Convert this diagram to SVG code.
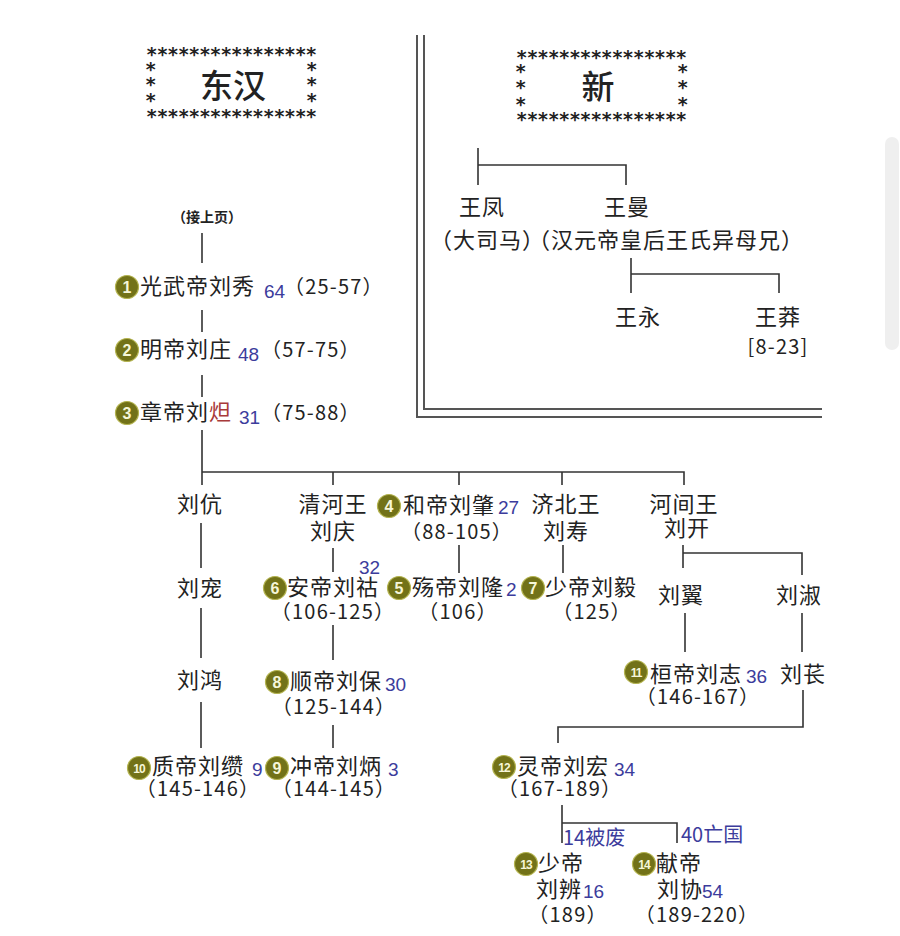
<svg xmlns="http://www.w3.org/2000/svg" width="900" height="936" viewBox="0 0 900 936">
<style>
.t{font-family:"Noto Sans CJK SC","Noto Sans",sans-serif;font-size:22px;fill:#222;letter-spacing:1px}
.p{font-family:"Noto Sans CJK SC","Noto Sans",sans-serif;font-size:20px;fill:#222;letter-spacing:1.2px}
.n{font-family:"Liberation Sans","Noto Sans",sans-serif;font-size:19px;fill:#3c3c9c}
.bl{font-family:"Noto Sans CJK SC","Noto Sans",sans-serif;font-size:20px;fill:#3c3c9c}
.ttl{font-family:"Noto Sans CJK SC",serif;font-size:33px;fill:#222;font-weight:500}
.st{font-family:"DejaVu Sans Mono",monospace;font-size:19px;fill:#222;font-weight:bold}
.ln{stroke:#333;stroke-width:1.6;fill:none}
.frame{stroke:#555;stroke-width:2;fill:none}
.bd{fill:#727218;stroke:#b4b450;stroke-width:1.2}
.bn{font-family:"Liberation Sans",sans-serif;font-size:16px;font-weight:bold;fill:#f6f6d8;text-anchor:middle}
.bn2{font-family:"Liberation Sans",sans-serif;font-size:12px;font-weight:bold;fill:#f6f6d8;text-anchor:middle;letter-spacing:-1px}
.m{text-anchor:middle}
</style>
<rect width="900" height="936" fill="#ffffff"/>
<rect x="885" y="137" width="14" height="213" rx="7" fill="#efefef"/>

<!-- frame -->
<g id="frame">
<path class="frame" d="M424 35 V409 H822"/>
<path class="frame" d="M417 35 V417 H822"/>
</g>

<!-- title boxes -->
<g id="title-donghan">
<text class="st"><tspan x="146" y="61" textLength="171" lengthAdjust="spacing">****************</tspan><tspan x="146" y="123" textLength="171" lengthAdjust="spacing">****************</tspan><tspan x="145" y="76">*</tspan><tspan x="145" y="91">*</tspan><tspan x="145" y="107">*</tspan><tspan x="306" y="76">*</tspan><tspan x="306" y="91">*</tspan><tspan x="306" y="107">*</tspan></text>
<text class="ttl m" x="233" y="98">东汉</text>
</g>
<g id="title-xin">
<text class="st"><tspan x="516" y="64" textLength="171" lengthAdjust="spacing">****************</tspan><tspan x="516" y="126" textLength="171" lengthAdjust="spacing">****************</tspan><tspan x="515" y="78">*</tspan><tspan x="515" y="94">*</tspan><tspan x="515" y="111">*</tspan><tspan x="677" y="78">*</tspan><tspan x="677" y="94">*</tspan><tspan x="677" y="111">*</tspan></text>
<text class="ttl m" x="598" y="99">新</text>
</g>

<!-- connectors -->
<g id="connectors">
<path class="ln" d="M478 148 V185 M478 165 H626 V185"/>
<path class="ln" d="M631 258 V293 M631 274 H779 V293"/>
<path class="ln" d="M202 233 V263"/>
<path class="ln" d="M202 310 V332"/>
<path class="ln" d="M202 375 V397"/>
<path class="ln" d="M202 430 V485 M202 472 H684 V485 M333 472 V485 M459 472 V485 M562 472 V485"/>
<path class="ln" d="M201 523 V568 M201 608 V658 M201 702 V748"/>
<path class="ln" d="M333 548 V572 M333 625 V660 M333 725 V748"/>
<path class="ln" d="M459 545 V573"/>
<path class="ln" d="M563 545 V573"/>
<path class="ln" d="M683 545 V568 M683 553 H802 V575"/>
<path class="ln" d="M685 613 V652"/>
<path class="ln" d="M802 613 V652"/>
<path class="ln" d="M803 690 V727 H558 V743"/>
<path class="ln" d="M562 805 V843 M562 823 H677 V843"/>
</g>

<!-- Xin nodes -->
<g id="wangfeng"><text class="t m" x="482" y="215">王凤</text><text class="t" x="430" y="248" letter-spacing="0">（大司马）</text></g>
<g id="wangman"><text class="t m" x="627" y="215">王曼</text><text class="t" x="528" y="248" letter-spacing="0">（汉元帝皇后王氏异母兄）</text></g>
<g id="wangyong"><text class="t m" x="638" y="325">王永</text></g>
<g id="wangmang"><text class="t m" x="778" y="325">王莽</text><text class="p m" x="778" y="354">[8-23]</text></g>

<!-- Eastern Han -->
<g id="jieshangye"><text x="207" y="222" text-anchor="middle" font-family="'Noto Sans CJK SC',sans-serif" font-size="14" font-weight="bold" fill="#222">（接上页）</text></g>

<g id="n1"><circle class="bd" cx="127" cy="287" r="11.5"/><text class="bn" x="127" y="293">1</text>
<text class="t" x="140" y="294">光武帝刘秀</text><text class="n" x="264" y="298">64</text><text class="p" x="284" y="294">（25-57）</text></g>
<g id="n2"><circle class="bd" cx="127" cy="350" r="11.5"/><text class="bn" x="127" y="356">2</text>
<text class="t" x="140" y="357">明帝刘庄</text><text class="n" x="238" y="361">48</text><text class="p" x="261" y="357">（57-75）</text></g>
<g id="n3"><circle class="bd" cx="127" cy="413" r="11.5"/><text class="bn" x="127" y="419">3</text>
<text class="t" x="140" y="420">章帝刘<tspan fill="#a83a3a">炟</tspan></text><text class="n" x="239" y="424">31</text><text class="p" x="261" y="420">（75-88）</text></g>

<g id="liukang"><text class="t m" x="200" y="512">刘伉</text></g>
<g id="liuchong"><text class="t m" x="200" y="596">刘宠</text></g>
<g id="liuhong"><text class="t m" x="200" y="688">刘鸿</text></g>

<g id="liuqing"><text class="t m" x="333" y="512">清河王</text><text class="t m" x="333" y="539">刘庆</text></g>
<g id="n4"><circle class="bd" cx="389" cy="506" r="11.5"/><text class="bn" x="389" y="512">4</text>
<text class="t" x="403" y="513">和帝刘肇</text><text class="n" x="498" y="514">27</text><text class="p m" x="457" y="539">（88-105）</text></g>
<g id="liushou"><text class="t m" x="566" y="512">济北王</text><text class="t m" x="566" y="539">刘寿</text></g>
<g id="liukai"><text class="t m" x="684" y="512">河间王</text><text class="t m" x="687" y="536">刘开</text></g>

<g id="n6"><circle class="bd" cx="275" cy="588" r="11.5"/><text class="bn" x="275" y="594">6</text>
<text class="t" x="287" y="595">安帝刘祜</text><text class="n" x="359" y="574">32</text><text class="p m" x="333" y="619">（106-125）</text></g>
<g id="n5"><circle class="bd" cx="399" cy="588" r="11.5"/><text class="bn" x="399" y="594">5</text>
<text class="t" x="412" y="595">殇帝刘隆</text><text class="n" x="506" y="596">2</text><text class="p m" x="458" y="619">（106）</text></g>
<g id="n7"><circle class="bd" cx="533" cy="588" r="11.5"/><text class="bn" x="533" y="594">7</text>
<text class="t" x="545" y="595">少帝刘毅</text><text class="p m" x="592" y="619">（125）</text></g>

<g id="liuyi"><text class="t m" x="681" y="603">刘翼</text></g>
<g id="liushu"><text class="t m" x="799" y="603">刘淑</text></g>

<g id="n8"><circle class="bd" cx="277" cy="682" r="11.5"/><text class="bn" x="277" y="688">8</text>
<text class="t" x="290" y="689">顺帝刘保</text><text class="n" x="385" y="691">30</text><text class="p m" x="334" y="714">（125-144）</text></g>

<g id="n11"><circle class="bd" cx="636" cy="672" r="11.5"/><text class="bn2" x="636" y="677">11</text>
<text class="t" x="650" y="682">桓帝刘志</text><text class="n" x="746" y="683">36</text><text class="p m" x="698" y="704">（146-167）</text></g>
<g id="liuchang"><text class="t m" x="803" y="682">刘苌</text></g>

<g id="n10"><circle class="bd" cx="139" cy="768" r="11.5"/><text class="bn2" x="139" y="773">10</text>
<text class="t" x="152" y="774">质帝刘缵</text><text class="n" x="252" y="776">9</text><text class="p m" x="198" y="796">（145-146）</text></g>
<g id="n9"><circle class="bd" cx="277" cy="768" r="11.5"/><text class="bn" x="277" y="774">9</text>
<text class="t" x="290" y="774">冲帝刘炳</text><text class="n" x="388" y="776">3</text><text class="p m" x="334" y="796">（144-145）</text></g>

<g id="n12"><circle class="bd" cx="504" cy="767" r="11.5"/><text class="bn2" x="504" y="772">12</text>
<text class="t" x="517" y="774">灵帝刘宏</text><text class="n" x="614" y="776">34</text><text class="p m" x="560" y="796">（167-189）</text></g>

<g id="n13"><circle class="bd" cx="526" cy="864" r="11.5"/><text class="bn2" x="526" y="869">13</text>
<text class="bl" x="563" y="845">14被废</text>
<text class="t" x="538" y="871">少帝</text><text class="t" x="536" y="897">刘辨</text><text class="n" x="583" y="898">16</text><text class="p m" x="568" y="922">（189）</text></g>
<g id="n14"><circle class="bd" cx="644" cy="864" r="11.5"/><text class="bn2" x="644" y="869">14</text>
<text class="bl" x="681" y="842">40亡国</text>
<text class="t" x="656" y="871">献帝</text><text class="t" x="657" y="897">刘协</text><text class="n" x="702" y="898">54</text><text class="p m" x="697" y="922">（189-220）</text></g>
</svg>
